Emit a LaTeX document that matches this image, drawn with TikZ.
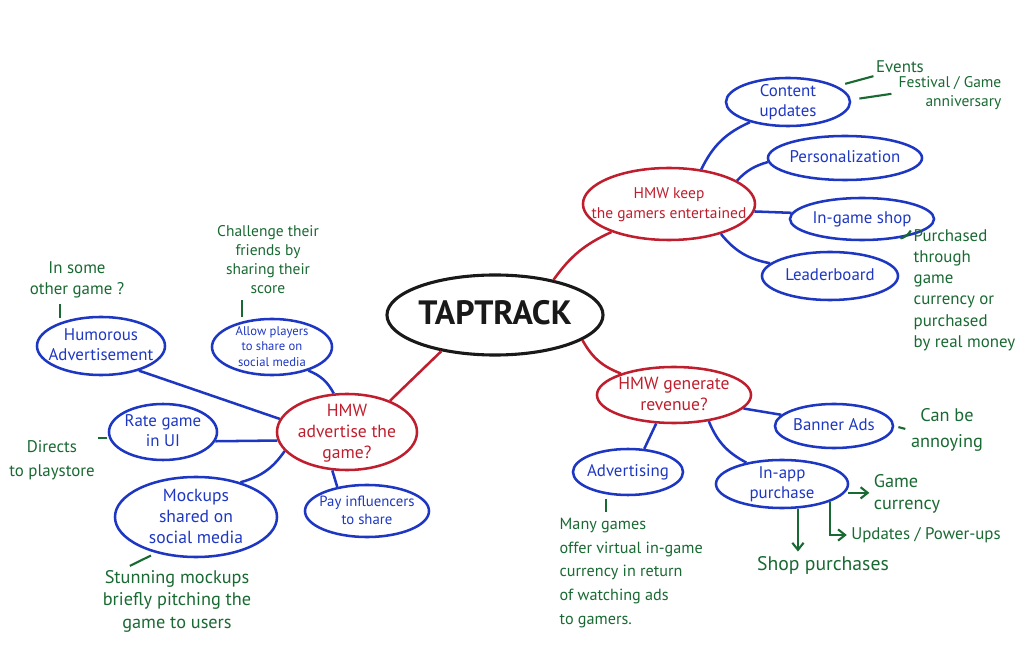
\documentclass[tikz,border=0pt]{standalone}
\usepackage{fontspec}
\setmainfont{PT Sans}
\usepackage{xcolor}
\usepackage{tikz}
\usetikzlibrary{positioning, calc, arrows.meta, shapes.geometric}
\definecolor{penblack}{RGB}{25, 25, 25}
\definecolor{penred}{RGB}{190, 30, 45}
\definecolor{penblue}{RGB}{30, 55, 195}
\definecolor{pengreen}{RGB}{25, 105, 50}
% text in a bubble takes no room, the bubble size is set by hand
\newcommand{\bub}[1]{\smash{\makebox[0pt]{\raisebox{-0.3em}{\begin{tabular}{@{}c@{}}#1\end{tabular}}}}}
\tikzset{
    hubnode/.style={
        ellipse, draw=penblack, line width=2.2pt, inner sep=0pt, text=penblack,
        font=\fontsize{24}{28}\selectfont\bfseries
    },
    hmwnode/.style={
        ellipse, draw=penred, line width=1.8pt, inner sep=0pt, text=penred,
        font=\fontsize{12.5}{15}\selectfont
    },
    ideanode/.style={
        ellipse, draw=penblue, line width=1.8pt, inner sep=0pt, text=penblue,
        font=\fontsize{12}{14}\selectfont
    },
    notenode/.style={
        text=pengreen, inner sep=1pt, align=center,
        font=\fontsize{12}{15}\selectfont
    },
    redlink/.style={penred, line width=1.8pt},
    bluelink/.style={penblue, line width=1.8pt},
    notelink/.style={pengreen, line width=1.5pt},
    noteptr/.style={notelink, -{Straight Barb[length=5pt, width=8pt]}}
}

\begin{document}
\begin{tikzpicture}[x=0.025cm, y=-0.025cm]
    \useasboundingbox (0,0) rectangle (1035,669);

    % ======================================
    % CENTRE
    % ======================================
    \node[hubnode, minimum width=5.4cm, minimum height=2.0cm] (taptrack) at (495,315) {\bub{TAPTRACK}};

    % ======================================
    % HMW QUESTIONS
    % ======================================
    \node[hmwnode, minimum width=4.3cm, minimum height=1.8cm, font=\fontsize{11}{14}\selectfont] (keep) at (669,204) {\bub{HMW keep\\the gamers entertained}};
    \node[hmwnode, minimum width=3.85cm, minimum height=1.4cm] (generate) at (674,395) {\bub{HMW generate\\revenue?}};
    \node[hmwnode, minimum width=3.5cm, minimum height=1.9cm] (advertise) at (347,432) {\bub{HMW\\advertise the\\game?}};

    \draw[redlink] (taptrack.31) to[bend left=15] (keep.206);
    \draw[redlink] (taptrack.-16) to[bend right=20] (generate.158);
    \draw[redlink] (taptrack.214) -- (advertise.36);

    % ======================================
    % KEEP THE GAMERS ENTERTAINED
    % ======================================
    \node[ideanode, minimum width=3.1cm, minimum height=1.2cm] (contentupd) at (788,102) {\bub{Content\\updates}};
    \node[ideanode, minimum width=3.85cm, minimum height=1.1cm] (personal) at (845,158) {\bub{Personalization}};
    \node[ideanode, minimum width=3.6cm, minimum height=1.05cm] (shop) at (862,219) {\bub{In-game shop}};
    \node[ideanode, minimum width=3.4cm, minimum height=1.2cm] (leader) at (830,276) {\bub{Leaderboard}};

    \draw[bluelink] (keep.47) to[bend left=20] (contentupd.208);
    \draw[bluelink] (keep.19) to[bend left=15] (personal.183);
    \draw[bluelink] (keep.-5) -- (shop.175);
    \draw[bluelink] (keep.-30) to[bend right=20] (leader.168);

    \node[notenode] (events) at (900,67) {Events};
    \node[notenode, align=right, font=\fontsize{11}{14}\selectfont] (festival) at (950,93) {Festival / Game\\anniversary};
    \node[notenode, align=left, anchor=north west] (purchased) at (912,228) {Purchased\\through\\game\\currency or\\purchased\\by real money};

    \draw[notelink, shorten <=6pt, shorten >=4pt] (contentupd.18) -- (events.200);
    \draw[notelink, shorten <=6pt, shorten >=4pt] (contentupd.2) -- (festival.west);
    \draw[notelink, shorten <=3pt, shorten >=2pt] (shop.-30) to[bend right=30] (purchased.north west);

    % ======================================
    % GENERATE REVENUE
    % ======================================
    \node[ideanode, minimum width=2.95cm, minimum height=1.1cm] (banner) at (834,426) {\bub{Banner Ads}};
    \node[ideanode, minimum width=2.75cm, minimum height=1.15cm] (advertising) at (628,472) {\bub{Advertising}};
    \node[ideanode, minimum width=3.3cm, minimum height=1.2cm] (inapp) at (782,484) {\bub{In-app\\purchase}};

    \draw[bluelink] (generate.-11) -- (banner.168);
    \draw[bluelink] (generate.238) -- (advertising.55);
    \draw[bluelink] (generate.-37) to[bend right=20] (inapp.149);

    \node[notenode, font=\fontsize{13}{18}\selectfont] (annoying) at (947,430) {Can be\\annoying};
    \node[notenode, align=left, anchor=west, font=\fontsize{11.5}{17}\selectfont] (manygames) at (558,573) {Many games\\offer virtual in-game\\currency in return\\of watching ads\\to gamers.};
    \node[notenode, align=left, font=\fontsize{13}{16}\selectfont] (gamecur) at (907,494) {Game\\currency};
    \node[notenode] (updates) at (926,535) {Updates / Power-ups};
    \node[notenode, font=\fontsize{14}{17}\selectfont] (shoppur) at (823,565) {Shop purchases};

    \draw[notelink, shorten <=3pt, shorten >=3pt] (banner.east) -- (annoying.west);
    \draw[notelink, shorten <=3pt, shorten >=3pt] (advertising.225) -- (advertising.225 |- manygames.north);
    \draw[noteptr, shorten <=2pt, shorten >=2pt] (inapp.-8) -- (gamecur.west |- inapp.-8);
    \draw[noteptr, shorten >=2pt] (inapp.-20) |- (updates.west);
    \draw[noteptr, shorten >=2pt] (inapp.-57) -- (inapp.-57 |- shoppur.north);

    % ======================================
    % ADVERTISE THE GAME
    % ======================================
    \node[ideanode, minimum width=3.2cm, minimum height=1.45cm] (humorous) at (101,346) {\bub{Humorous\\Advertisement}};
    \node[ideanode, minimum width=3.0cm, minimum height=1.4cm, font=\fontsize{9}{11}\selectfont] (allow) at (272,347) {\bub{Allow players\\to share on\\social media}};
    \node[ideanode, minimum width=2.7cm, minimum height=1.4cm] (rate) at (163,432) {\bub{Rate game\\in UI}};
    \node[ideanode, minimum width=4.05cm, minimum height=2.0cm, font=\fontsize{12.5}{15}\selectfont] (mockups) at (196,517) {\bub{Mockups\\shared on\\social media}};
    \node[ideanode, minimum width=3.1cm, minimum height=1.3cm, font=\fontsize{10.5}{13}\selectfont] (pay) at (367,511) {\bub{Pay influencers\\to share}};

    \draw[bluelink] (allow.-33) to[bend left=20] (advertise.109);
    \draw[bluelink] (humorous.-33) -- (advertise.169);
    \draw[bluelink] (rate.-10) -- (advertise.187);
    \draw[bluelink] (advertise.197) to[bend left=20] (mockups.38);
    \draw[bluelink] (advertise.249) -- (pay.141);

    \node[notenode] (somegame) at (77,280) {In some\\other game ?};
    \node[notenode, font=\fontsize{11}{13.5}\selectfont] (challenge) at (268,260) {Challenge their\\friends by\\sharing their\\score};
    \node[notenode, font=\fontsize{12}{17}\selectfont] (directs) at (52,460) {Directs\\to playstore};
    \node[notenode, font=\fontsize{13}{16}\selectfont] (stunning) at (177,601) {Stunning mockups\\briefly pitching the\\game to users};

    \draw[notelink, shorten <=3pt, shorten >=3pt] (humorous.150) -- (humorous.150 |- somegame.south);
    \draw[notelink, shorten <=3pt, shorten >=3pt] (allow.140) -- (allow.140 |- challenge.south);
    \draw[notelink, shorten <=1pt, shorten >=1pt] (rate.186) -- (directs.east |- rate.186);
    \draw[notelink, shorten <=4pt, shorten >=4pt] (mockups.222) -- (stunning.148);

\end{tikzpicture}
\end{document}
